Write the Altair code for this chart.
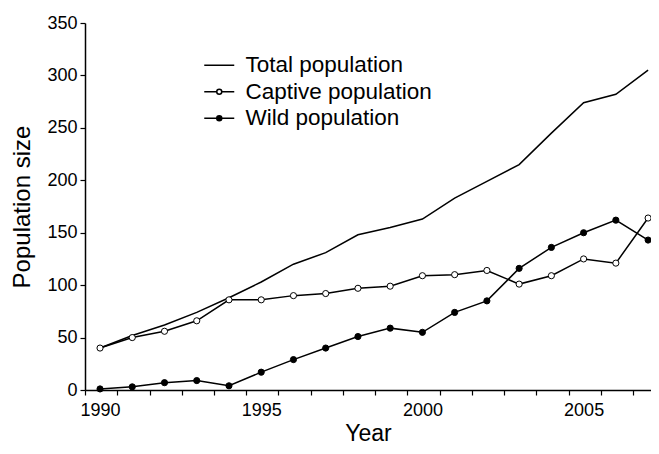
import altair as alt
import pandas as pd

years = list(range(1990, 2008))
total = [40, 52, 62, 74, 88, 103, 120, 131, 148, 155, 163, 183, 199, 215, 245, 274, 282, 305]
captive = [40, 50, 56, 66, 86, 86, 90, 92, 97, 99, 109, 110, 114, 101, 109, 125, 121, 164]
wild = [1, 3, 7, 9, 4, 17, 29, 40, 51, 59, 55, 74, 85, 116, 136, 150, 162, 143]
series_names = ["Total population", "Captive population", "Wild population"]
y_ticks = [0, 50, 100, 150, 200, 250, 300, 350]

rows = []
for name, vals in zip(series_names, [total, captive, wild]):
    for yr, v in zip(years, vals):
        rows.append({"year": yr, "value": v, "series": name})
df = pd.DataFrame(rows)

FONT = "Liberation Sans"

x_enc = alt.X(
    "year:Q",
    scale=alt.Scale(domain=[1989.534, 2007.09], nice=False, zero=False),
    axis=alt.Axis(
        values=years,
        format="d",
        labelExpr="datum.value % 5 === 0 ? datum.label : ''",
        tickOffset=-15,
        labelOffset=15,
        labelFlush=False,
        labelOverlap=False,
        title="Year",
        titleFontSize=23,
        titlePadding=3,
        labelPadding=6,
    ),
)
y_enc = alt.Y(
    "value:Q",
    scale=alt.Scale(domain=[0, 350], nice=False),
    axis=alt.Axis(values=y_ticks, title="Population size", titleFontSize=24, titlePadding=12, labelPadding=3),
)

lines = alt.Chart(df).mark_line(color="black", strokeWidth=1.5).encode(
    x=x_enc, y=y_enc, detail="series:N"
)

captive_pts = (
    alt.Chart(df)
    .transform_filter(alt.datum.series == "Captive population")
    .mark_point(filled=True, fill="white", stroke="black", strokeWidth=1, size=38, opacity=1)
    .encode(x=x_enc, y=y_enc)
)
wild_pts = (
    alt.Chart(df)
    .transform_filter(alt.datum.series == "Wild population")
    .mark_point(filled=True, fill="black", stroke="black", strokeWidth=1, size=38, opacity=1)
    .encode(x=x_enc, y=y_enc)
)

line_path = "M-1.5,0H1.5"
circ_path = "M-1.5,0H-0.25M0.25,0H1.5M0.25,0A0.25,0.25,0,1,1,-0.25,0A0.25,0.25,0,1,1,0.25,0"

leg = dict(
    title=None,
    orient="none",
    legendX=123,
    legendY=31,
    padding=0,
    symbolSize=400,
    symbolStrokeWidth=1.5,
    symbolOpacity=1,
    labelFontSize=22.5,
    labelFont=FONT,
    labelColor="black",
    labelOffset=15,
    labelLimit=400,
    rowPadding=3.5,
)

legend_layer = (
    alt.Chart(df)
    .transform_filter("false")
    .mark_point(filled=True, strokeWidth=1.5, opacity=1)
    .encode(
        x=x_enc,
        y=y_enc,
        shape=alt.Shape(
            "series:N",
            scale=alt.Scale(domain=series_names, range=[line_path, circ_path, circ_path]),
            legend=alt.Legend(**leg),
        ),
        fill=alt.Fill(
            "series:N",
            scale=alt.Scale(domain=series_names, range=["white", "white", "black"]),
            legend=alt.Legend(**leg),
        ),
        stroke=alt.Stroke(
            "series:N",
            scale=alt.Scale(domain=series_names, range=["black", "black", "black"]),
            legend=alt.Legend(**leg),
        ),
    )
)

chart = (
    alt.layer(lines, captive_pts, wild_pts, legend_layer)
    .properties(
        width=566,
        height=367,
        padding={"left": 77, "top": 15, "right": 0, "bottom": 56},
        autosize=alt.AutoSizeParams(type="none"),
        background="white",
    )
    .configure_view(stroke=None)
    .configure_axis(
        grid=False,
        domainColor="black",
        domainWidth=1.5,
        tickColor="black",
        tickWidth=1.2,
        tickSize=5,
        labelFont=FONT,
        titleFont=FONT,
        labelFontSize=18,
        labelColor="black",
        titleColor="black",
        titleFontWeight="normal",
    )
)

chart.save("out.html", embed_options={"renderer": "svg", "actions": False})
